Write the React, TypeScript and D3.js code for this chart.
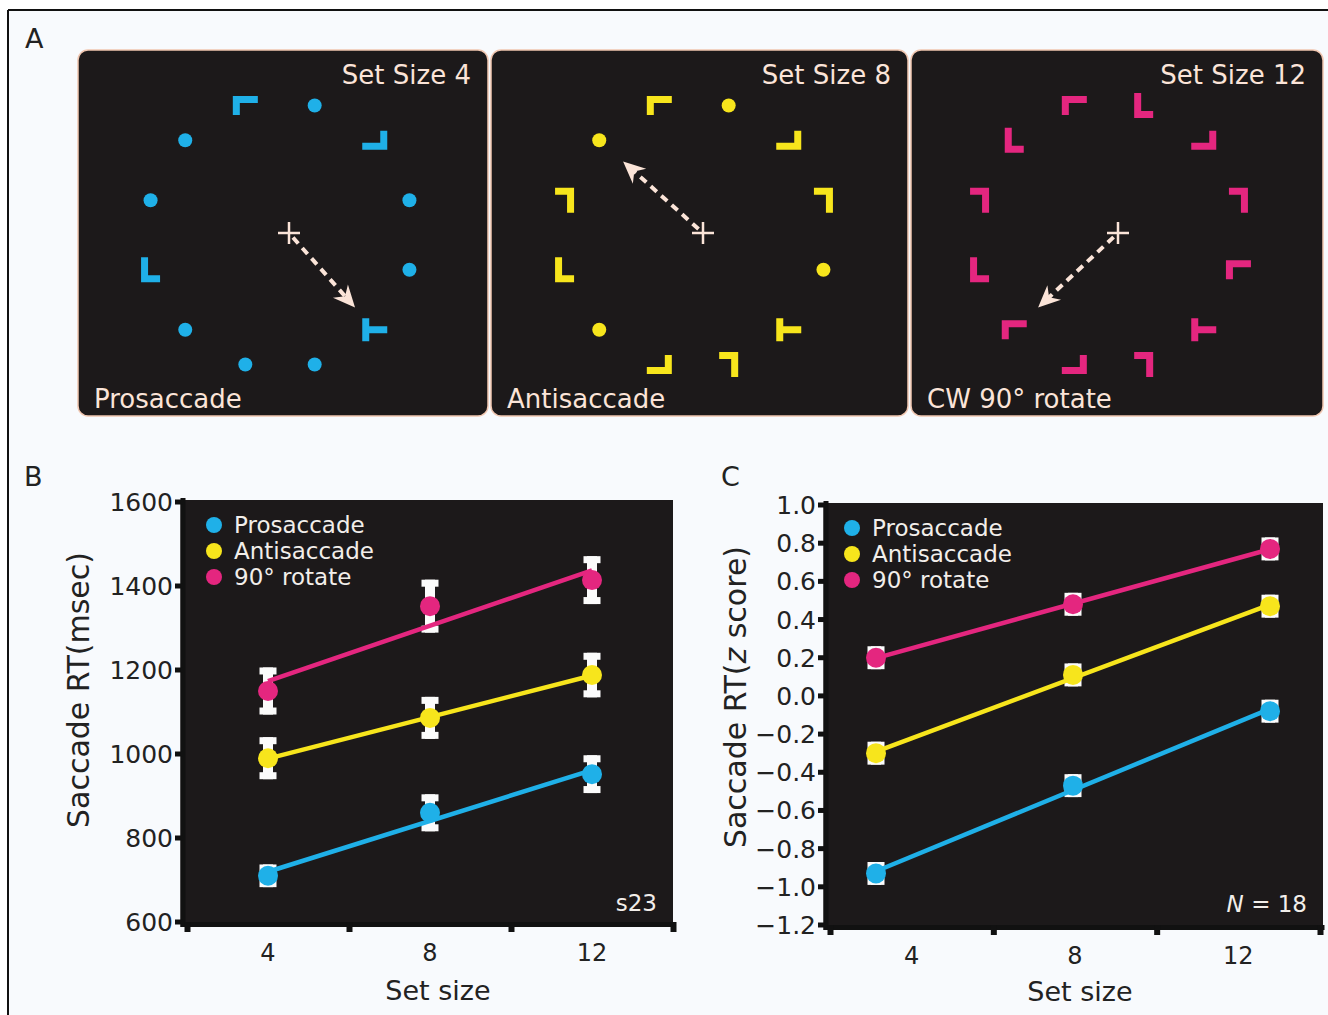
import React from "react";
import * as d3 from "d3";

// conditions / set sizes
const setSizes = [4, 8, 12];
const conditionNames = ["Prosaccade", "Antisaccade", "90° rotate"];
const conditionColors = ["#1fb0e8", "#f7e51c", "#e4267f"];

// panel B: subject s23, saccade RT in msec
const prosRT = [710, 860, 952];
const antiRT = [990, 1086, 1188];
const rotRT = [1150, 1352, 1414];
const prosRTErr = [27, 44, 45];
const antiRTErr = [50, 50, 53];
const rotRTErr = [56, 63, 57];
const rtTicks = [600, 800, 1000, 1200, 1400, 1600];

// panel C: N = 18, saccade RT z score
const prosZ = [-0.93, -0.47, -0.08];
const antiZ = [-0.3, 0.11, 0.47];
const rotZ = [0.2, 0.48, 0.77];
const prosZErr = [0.06, 0.06, 0.06];
const antiZErr = [0.06, 0.06, 0.06];
const rotZErr = [0.06, 0.06, 0.06];
const zTicks = [-1.2, -1.0, -0.8, -0.6, -0.4, -0.2, 0.0, 0.2, 0.4, 0.6, 0.8, 1.0];

// x axis tick marks (unlabelled) sit between the set sizes
const xTickMarks = [2, 6, 10, 14];

// panel A: the 12 display locations (deg, ccw from right) and what sits at each
const itemAngles = [15, 45, 75, 105, 135, 165, 195, 225, 255, 285, 315, 345];
const display4 = ["dot", "L270", "dot", "L90", "dot", "dot", "L0", "dot", "dot", "dot", "T", "dot"];
const display8 = ["L180", "L270", "dot", "L90", "dot", "L180", "L0", "dot", "L270", "L180", "T", "dot"];
const display12 = ["L180", "L270", "L0", "L90", "L0", "L180", "L0", "L90", "L270", "L180", "T", "L90"];
const setSizeLabels = ["Set Size 4", "Set Size 8", "Set Size 12"];
const taskLabels = ["Prosaccade", "Antisaccade", "CW 90° rotate"];
const saccadeAngles = [315, 135, 225];

const FONT = "DejaVu Sans, Verdana, sans-serif";
const PANEL_BG = "#1c191a";
const PEACH = "#fbe4d8";

// ---------- panel A ----------
const panelX = [78, 491, 911];
const panelW = [410, 417, 412];
const circleCX = [280, 694, 1109];
const circleCY = 235;
const circleR = 134;

const L_PATH = "M0,-25 L7,-25 L7,-7 L19,-7 L19,0 L0,0 Z";
const T_PATH = "M0,-11.5 L7,-11.5 L7,-3.5 L25,-3.5 L25,3.5 L7,3.5 L7,11.5 L0,11.5 Z";

function Item({ kind, x, y, color }) {
  if (kind === "dot") return <circle cx={x} cy={y} r={7} fill={color} />;
  if (kind === "T")
    return <path d={T_PATH} fill={color} transform={`translate(${x},${y}) translate(-12.5,0)`} />;
  const rot = +kind.slice(1);
  return (
    <path
      d={L_PATH}
      fill={color}
      transform={`translate(${x},${y}) rotate(${rot}) translate(-9.5,12.5)`}
    />
  );
}

function StimulusPanel({ i, items, color }) {
  const cx = circleCX[i];
  const pos = (a) => [cx + circleR * Math.cos((a * Math.PI) / 180), circleCY - circleR * Math.sin((a * Math.PI) / 180)];
  const fx = cx + 9,
    fy = circleCY - 2;
  const [tx, ty] = pos(saccadeAngles[i]);
  const len = Math.hypot(tx - fx, ty - fy);
  const ux = (tx - fx) / len,
    uy = (ty - fy) / len;
  const tipX = fx + ux * len * 0.77,
    tipY = fy + uy * len * 0.77;
  const ang = (Math.atan2(uy, ux) * 180) / Math.PI;
  return (
    <g>
      <rect x={panelX[i]} y={50} width={panelW[i]} height={366} rx={10} fill={PANEL_BG} stroke="#f0c6b0" strokeWidth={1.5} />
      {itemAngles.map((a, k) => {
        const [x, y] = pos(a);
        return <Item key={k} kind={items[k]} x={x} y={y} color={color} />;
      })}
      <line x1={fx - 11} x2={fx + 11} y1={fy} y2={fy} stroke={PEACH} strokeWidth={2.5} />
      <line x1={fx} x2={fx} y1={fy - 11} y2={fy + 11} stroke={PEACH} strokeWidth={2.5} />
      <line
        x1={fx + ux * 6}
        y1={fy + uy * 6}
        x2={tipX - ux * 14}
        y2={tipY - uy * 14}
        stroke={PEACH}
        strokeWidth={4}
        strokeDasharray="8 6"
      />
      <path d="M0,0 L-22,-10 L-15,0 L-22,10 Z" fill={PEACH} transform={`translate(${tipX},${tipY}) rotate(${ang})`} />
      <text x={panelX[i] + panelW[i] - 17} y={84} textAnchor="end" fontSize={26} fill={PEACH} fontFamily={FONT}>
        {setSizeLabels[i]}
      </text>
      <text x={panelX[i] + 16} y={408} fontSize={26} fill={PEACH} fontFamily={FONT}>
        {taskLabels[i]}
      </text>
    </g>
  );
}

// ---------- panels B / C ----------
function fitLine(xs, ys) {
  const mx = d3.mean(xs),
    my = d3.mean(ys);
  const slope = d3.sum(xs.map((x, k) => (x - mx) * (ys[k] - my))) / d3.sum(xs.map((x) => (x - mx) ** 2));
  return (x) => my + slope * (x - mx);
}

function ResultPlot({ axisX, left, right, top, bottom, y, yTicks, yFmt, xAxis, xPoint, series, errs, legendX }) {
  return (
    <g fontFamily={FONT}>
      <rect x={axisX - 2.5} y={top} width={right - axisX + 2.5} height={bottom - top} fill={PANEL_BG} />
      {/* y axis */}
      <rect x={axisX - 2.5} y={top - 2} width={5} height={bottom - top + 7} fill="#111" />
      {yTicks.map((t) => (
        <g key={t}>
          <rect x={axisX - 8} y={y(t) - 2.5} width={8} height={5} fill="#111" />
          <text x={axisX - 10} y={y(t)} dy="0.36em" textAnchor="end" fontSize={25} fill="#222">
            {yFmt(t)}
          </text>
        </g>
      ))}
      {/* x axis */}
      <rect x={axisX - 2.5} y={bottom} width={right - axisX + 4} height={5} fill="#111" />
      {xTickMarks.map((t) => (
        <rect key={t} x={xAxis(t) - 2.5} y={bottom} width={6} height={10} fill="#111" />
      ))}
      {setSizes.map((s) => (
        <text key={s} x={xAxis(s)} y={bottom + 39} textAnchor="middle" fontSize={24} fill="#222">
          {s}
        </text>
      ))}
      {/* error bars */}
      {series.map((vals, si) =>
        vals.map((v, k) => {
          const cx = xPoint(setSizes[k]);
          const y1 = y(v + errs[si][k]),
            y2 = y(v - errs[si][k]);
          return (
            <g key={`${si}-${k}`} fill="#fbfbfb">
              <rect x={cx - 5} y={y1} width={10} height={y2 - y1} />
              <rect x={cx - 8.5} y={y1} width={17} height={7} />
              <rect x={cx - 8.5} y={y2 - 7} width={17} height={7} />
            </g>
          );
        })
      )}
      {/* fitted lines */}
      {series.map((vals, si) => {
        const f = fitLine(setSizes, vals);
        return (
          <line
            key={si}
            x1={xPoint(setSizes[0])}
            y1={y(f(setSizes[0]))}
            x2={xPoint(setSizes[2])}
            y2={y(f(setSizes[2]))}
            stroke={conditionColors[si]}
            strokeWidth={4.5}
          />
        );
      })}
      {series.map((vals, si) =>
        vals.map((v, k) => <circle key={`${si}-${k}`} cx={xPoint(setSizes[k])} cy={y(v)} r={10} fill={conditionColors[si]} />)
      )}
      {/* legend */}
      {conditionNames.map((n, k) => (
        <g key={n}>
          <circle cx={legendX} cy={top + 25 + k * 26} r={8} fill={conditionColors[k]} />
          <text x={legendX + 20} y={top + 25 + k * 26} dy="0.36em" fontSize={23} fill="#f2eeea">
            {n}
          </text>
        </g>
      ))}
    </g>
  );
}

export default function App() {
  // panel B scales
  const xB = d3.scaleLinear().domain([2, 14]).range([187, 673]);
  const yB = d3.scaleLinear().domain([600, 1600]).range([922, 502]);
  // panel C scales (points are spread a bit wider than the tick labels)
  const xC = d3.scaleLinear().domain([2, 14]).range([830, 1320]);
  const xCPoint = d3.scaleLinear().domain([4, 12]).range([876, 1270]);
  const yC = d3.scaleLinear().domain([-1.2, 1.0]).range([925, 505]);

  return (
    <div>
      <style>{"body{margin:0}"}</style>
      <svg width={1328} height={1015} style={{ display: "block" }}>
        <rect x={0} y={0} width={1328} height={1015} fill="#ffffff" />
        <rect x={8} y={10} width={1320} height={1005} fill="#f8fafd" />
        <line x1={8} y1={10} x2={1328} y2={10} stroke="#111" strokeWidth={2} />
        <line x1={8} y1={10} x2={8} y2={1015} stroke="#111" strokeWidth={2} />

        <g fontFamily={FONT} fill="#222" fontSize={27}>
          <text x={25} y={48}>A</text>
          <text x={24} y={486}>B</text>
          <text x={721} y={486}>C</text>
        </g>

        <StimulusPanel i={0} items={display4} color={conditionColors[0]} />
        <StimulusPanel i={1} items={display8} color={conditionColors[1]} />
        <StimulusPanel i={2} items={display12} color={conditionColors[2]} />

        <ResultPlot
          axisX={183}
          left={187}
          right={673}
          top={500}
          bottom={922}
          y={yB}
          yTicks={rtTicks}
          yFmt={(t) => String(t)}
          xAxis={xB}
          xPoint={xB}
          series={[prosRT, antiRT, rotRT]}
          errs={[prosRTErr, antiRTErr, rotRTErr]}
          legendX={214}
        />
        <text x={657} y={911} textAnchor="end" fontSize={23} fill="#f2eeea" fontFamily={FONT}>
          s23
        </text>
        <text transform="translate(89,690) rotate(-90)" textAnchor="middle" fontSize={30} fill="#222" fontFamily={FONT}>
          Saccade RT(msec)
        </text>
        <text x={438} y={1000} textAnchor="middle" fontSize={27} fill="#222" fontFamily={FONT}>
          Set size
        </text>

        <ResultPlot
          axisX={826}
          left={830}
          right={1323}
          top={503}
          bottom={925}
          y={yC}
          yTicks={zTicks}
          yFmt={d3.format(".1f")}
          xAxis={xC}
          xPoint={xCPoint}
          series={[prosZ, antiZ, rotZ]}
          errs={[prosZErr, antiZErr, rotZErr]}
          legendX={852}
        />
        <text x={1307} y={912} textAnchor="end" fontSize={23} fill="#f2eeea" fontFamily={FONT}>
          <tspan fontStyle="italic">N</tspan> = 18
        </text>
        <text transform="translate(746,697) rotate(-90)" textAnchor="middle" fontSize={30} fill="#222" fontFamily={FONT}>
          Saccade RT(<tspan fontStyle="italic">z</tspan> score)
        </text>
        <text x={1080} y={1001} textAnchor="middle" fontSize={27} fill="#222" fontFamily={FONT}>
          Set size
        </text>
      </svg>
    </div>
  );
}
